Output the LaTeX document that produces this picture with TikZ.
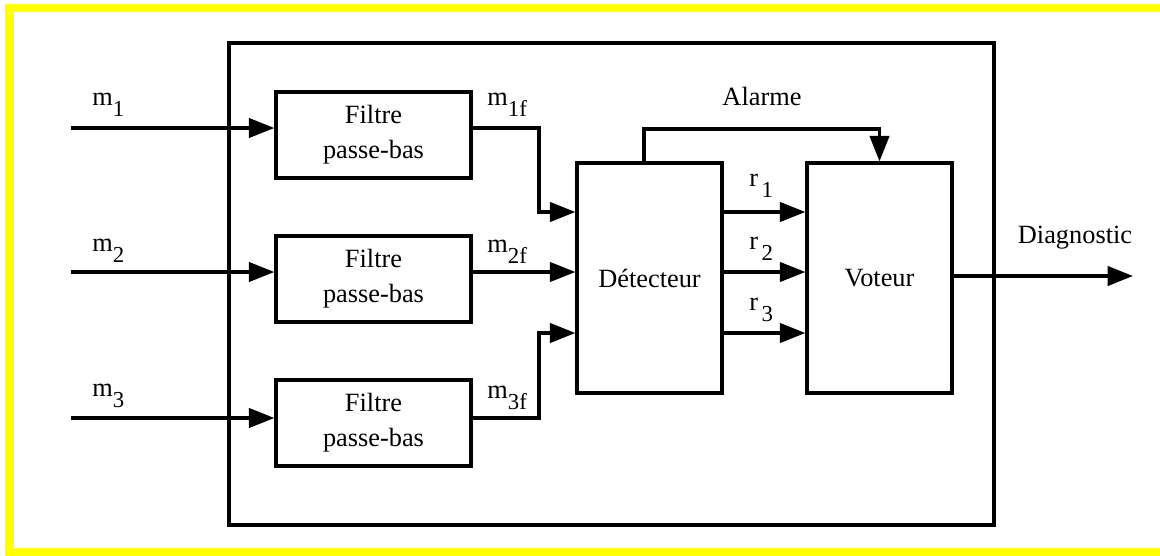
\documentclass[tikz,border=0pt]{standalone}
\usepackage{fontspec}
\setmainfont{Liberation Serif}
\usepackage{tikz}
\usetikzlibrary{arrows.meta, positioning, calc}
\definecolor{framey}{RGB}{255,255,0}
\newcommand{\msub}[2]{#1\raisebox{-0.42em}{\fontsize{13}{13}\selectfont #2}}

\begin{document}
\begin{tikzpicture}[
    x=0.02cm, y=-0.02cm, font=\fontsize{15}{20}\selectfont,
    fbox/.style={rectangle, draw=black, line width=1.9pt, align=center,
                 minimum width=3.9cm, minimum height=1.72cm, inner sep=0pt},
    bbox/.style={rectangle, draw=black, line width=1.9pt, align=center,
                 minimum width=2.9cm, minimum height=4.6cm, inner sep=0pt},
    a/.style={-{Triangle[length=14.5pt, width=11pt]}, line width=1.9pt},
    lab/.style={anchor=base west, inner sep=0pt},
]
\useasboundingbox (0,0) rectangle (1160,555);

%% ─── yellow frame + system box ───────────────────────────────
\draw[framey, line width=5pt] (1165,8) -- (9.5,8) -- (9.5,552) -- (1165,552);
\node[rectangle, draw=black, line width=1.9pt,
      minimum width=15.3cm, minimum height=9.64cm]
      (sys) at (611.5,284) {};

%% ─── nodes ───────────────────────────────────────────────────
\node[fbox] (f1) at (373.5,135) {Filtre\\passe-bas};
\node[fbox] (f2) at (373.5,279) {Filtre\\passe-bas};
\node[fbox] (f3) at (373.5,423) {Filtre\\passe-bas};

\node[bbox] (det) at (649.5,278) {D\'etecteur};
\node[bbox] (vot) at (879.5,278) {Voteur};

\coordinate (in1) at (71,128);
\coordinate (in2) at (71,272);
\coordinate (in3) at (71,418);
\coordinate (k1)  at (539,212);
\coordinate (k3)  at (539,333);
\coordinate (al)  at (644,129);
\coordinate (out) at (1133,276);

%% ─── labels ──────────────────────────────────────────────────
\node[lab] (lm1) at (92,105) {\msub{m}{1}};
\node[lab] (lm2) at (92,251) {\msub{m}{2}};
\node[lab] (lm3) at (92,396) {\msub{m}{3}};
\node[lab] (lf1) at (487,105) {\msub{m}{1f}};
\node[lab] (lf2) at (487,252) {\msub{m}{2f}};
\node[lab] (lf3) at (487,398) {\msub{m}{3f}};
\node[lab] (lr1) at (749,186) {\msub{r\hspace{2pt}}{1}};
\node[lab] (lr2) at (749,249) {\msub{r\hspace{2pt}}{2}};
\node[lab] (lr3) at (749,310) {\msub{r\hspace{2pt}}{3}};
\node[anchor=base, inner sep=0pt] (lal) at (762,105) {Alarme};
\node[anchor=base, inner sep=0pt] (ldg) at (1075,243) {Diagnostic};

%% ─── arrows ──────────────────────────────────────────────────

% inputs -> filters
\draw[a] (in1) -- (in1 -| f1.west);
\draw[a] (in2) -- (in2 -| f2.west);
\draw[a] (in3) -- (in3 -| f3.west);

% filters -> detector
\draw[a] (f1.east |- in1) -| (k1) -- (k1 -| det.west);
\draw[a] (f2.east |- in2) -- (det.west |- in2);
\draw[a] (f3.east |- in3) -| (k3) -- (k3 -| det.west);

% residuals -> voter
\draw[a] (det.east |- k1) -- (vot.west |- k1);
\draw[a] (det.east |- in2) -- (vot.west |- in2);
\draw[a] (det.east |- k3) -- (vot.west |- k3);

% alarm over the top
\draw[a] (al |- det.north) -- (al) -| (vot.north);

% output
\draw[a] (vot.east |- out) -- (out);

\end{tikzpicture}
\end{document}
